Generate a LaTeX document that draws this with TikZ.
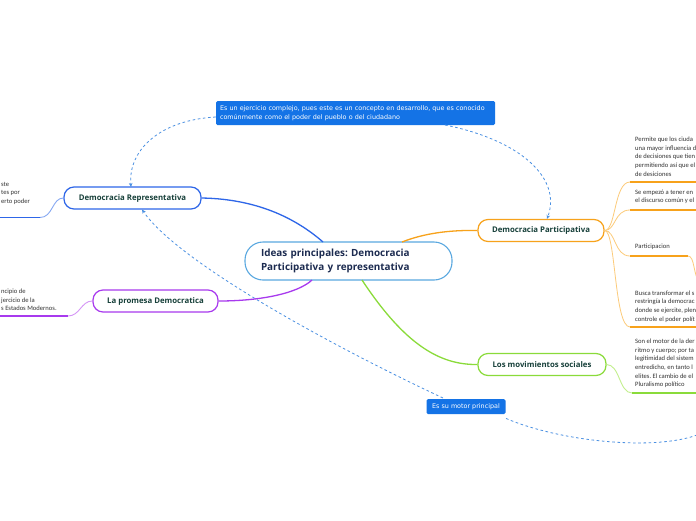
\documentclass[tikz,border=0pt]{standalone}
\usepackage{fontspec}
\setmainfont{Open Sans}
\newfontfamily\smallfont{Carlito}
\newfontfamily\labelfont{DejaVu Sans}
\usetikzlibrary{arrows.meta,calc}
\frenchspacing
\definecolor{repblue}{HTML}{2E66E8}
\definecolor{repblueL}{HTML}{86A8F2}
\definecolor{cenblue}{HTML}{5AA8E0}
\definecolor{orangeD}{HTML}{F7A21B}
\definecolor{orangeL}{HTML}{FCCB7A}
\definecolor{purpD}{HTML}{A83AEE}
\definecolor{purpL}{HTML}{D596F6}
\definecolor{greenD}{HTML}{8ADB3A}
\definecolor{greenL}{HTML}{C3EF8E}
\definecolor{labfill}{HTML}{1473E6}
\definecolor{dashc}{HTML}{4A90E2}
\definecolor{topictext}{HTML}{17403A}
\definecolor{centext}{HTML}{1C2B50}
\definecolor{smalltext}{HTML}{333333}
\begin{document}
\begin{tikzpicture}[x=1pt,y=-1pt,
  topic/.style={draw, line width=1.2pt, rounded corners=10pt, fill=white,
    minimum height=22pt, inner sep=0pt, text=topictext,
    font=\bfseries\fontsize{7.8}{9}\selectfont},
  central/.style={draw=cenblue, line width=1.1pt, rounded corners=18pt, fill=white,
    minimum width=207pt, minimum height=38pt, text width=175pt, inner xsep=16pt,
    align=left, text=centext, font=\bfseries\fontsize{9.9}{14}\selectfont},
  detail/.style={anchor=north west, inner sep=0pt, align=left, text=smalltext,
    font=\smallfont\fontsize{6.6}{8.6}\selectfont},
  bluelabel/.style={fill=labfill, rounded corners=1.5pt, text=white, inner sep=0pt,
    font=\labelfont\fontsize{6.4}{9}\selectfont},
  dashlink/.style={draw=dashc, line width=0.8pt, dash pattern=on 2.6pt off 2.6pt,
    -{Stealth[length=4pt,width=3.6pt]}},
  dashplain/.style={draw=dashc, line width=0.8pt, dash pattern=on 2.6pt off 2.6pt},
]
\useasboundingbox (0,0) rectangle (696,520);
\clip (0,0) rectangle (696,520);
\fill[white] (0,0) rectangle (696,520);

% ---------- labels & coordinates ----------
\coordinate (rightin) at (702,433);
\node[bluelabel, minimum width=279pt, minimum height=24pt, text width=271pt, align=left] (toplab) at (355.5,113) {Es un ejercicio complejo, pues este es un concepto en desarrollo, que es conocido\\comúnmente como el poder del pueblo o del ciudadano};

% ---------- nodes ----------
\node[central] (c) at (348.5,261) {Ideas principales: Democracia\\Participativa y representativa};
\node[topic, draw=repblue, minimum width=137pt] (dr) at (132.5,198) {Democracia Representativa};
\node[topic, draw=orangeD, minimum width=126pt] (dp) at (541,230.5) {Democracia Participativa};
\node[topic, draw=purpD, minimum width=125pt] (lpd) at (155.5,301) {La promesa Democratica};
\node[topic, draw=greenD, minimum width=128pt] (lms) at (542,364.5) {Los movimientos sociales};

% ---------- dashed links ----------
\draw[dashlink] (toplab.west |- 0,117) .. controls (160,120) and (128,150) .. (131,187);
\draw[dashlink] (445,125) .. controls (520,140) and (562,178) .. (dp.north -| 547,0);
\draw[dashplain] (rightin) .. controls (660,452) and (560,442) .. (505,418);
\draw[dashlink] (443,398) .. controls (330,345) and (178,262) .. (142,209.5);
\node[bluelabel, minimum width=79pt, minimum height=15pt] (motor) at (466,406.5) {Es su motor principal};

% ---------- main branches ----------
\coordinate (cb) at (323,242);
\coordinate (co) at (402,242);
\coordinate (cp) at (312,280);
\coordinate (cg) at (362,280);
\draw[repblue, line width=1.3pt] (dr.east) .. controls (262,199) and (300,222) .. (cb);
\draw[orangeD, line width=1.3pt] (co) .. controls (425,233) and (450,230) .. (dp.west);
\draw[purpD, line width=1.3pt] (lpd.east) .. controls (262,301) and (298,293) .. (cp);
\draw[greenD, line width=1.3pt] (cg) .. controls (405,345) and (440,365) .. (lms.west);

% ---------- Democracia Representativa detail ----------
\node[detail] (drtxt) at (1,182) {ste\\tes por\\erto poder};
\coordinate (dru) at (40,217.5);
\draw[repblueL, line width=0.9pt] (dr.west) .. controls (52,198) and (53,217.5) .. (dru);
\draw[repblue, line width=1.4pt] (dru) -- (-2,217.5);

% ---------- La promesa detail ----------
\node[detail] (lptxt) at (1,289) {ncipio de\\jercicio de la\\s Estados Modernos.};
\coordinate (lpu) at (68,316);
\draw[purpL, line width=0.9pt] (lpd.west) .. controls (81,301) and (80,316) .. (lpu);
\draw[purpD, line width=1.4pt] (lpu) -- (-2,316);

% ---------- Democracia Participativa details ----------
\node[detail] (dp1) at (635,137) {Permite que los ciuda\\una mayor influencia d\\de decisiones que tien\\permitiendo así que el\\de desiciones};
\node[detail] (dp2) at (635,189.5) {Se empezó a tener en\\el discurso común y el};
\node[detail] (dp3) at (635,244) {Participacion};
\node[detail] (dp4) at (635,290.5) {Busca transformar el s\\restringía la democrac\\donde se ejercite, plen\\controle el poder polít};
\coordinate (u1) at (630,182);
\coordinate (u2) at (630,210);
\coordinate (u3) at (630,256);
\coordinate (u4) at (630,327);
\coordinate (u3e) at (688,256);
\foreach \u in {u1,u2,u3,u4}{
  \draw[orangeL, line width=0.8pt] (dp.east) .. controls (616,230.5) and (614,0 |- \u) .. (\u);
}
\draw[orangeD, line width=1.4pt] (u1) -- (700,182);
\draw[orangeD, line width=1.4pt] (u2) -- (700,210);
\draw[orangeD, line width=1.4pt] (u3) -- (u3e);
\draw[orangeL, line width=0.8pt] (u3e) .. controls (695,256) and (693,276) .. (700,283);
\draw[orangeD, line width=1.4pt] (u4) -- (700,327);

% ---------- Los movimientos sociales detail ----------
\node[detail] (lmtxt) at (635,339) {Son el motor de la der\\ritmo y cuerpo; por ta\\legitimidad del sistem\\entredicho, en tanto l\\elites. El cambio de el\\Pluralismo político};
\coordinate (lmu) at (632,393);
\draw[greenL, line width=0.9pt] (lms.east) .. controls (620,364.5) and (619,393) .. (lmu);
\draw[greenD, line width=1.4pt] (lmu) -- (700,393);
\end{tikzpicture}
\end{document}
